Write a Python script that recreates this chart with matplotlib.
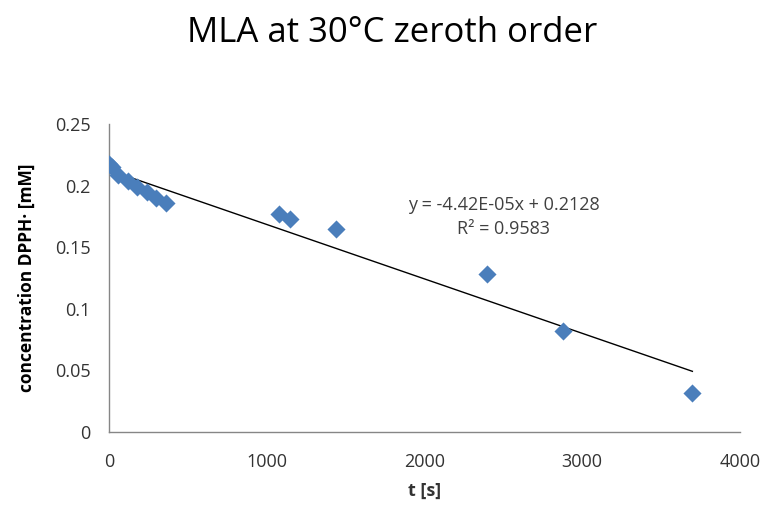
import numpy as np
import matplotlib
matplotlib.use('Agg')
import matplotlib.pyplot as plt

# data
t_s = [0, 20, 60, 120, 180, 240, 300, 360, 1080, 1150, 1440, 2400, 2880, 3700]
conc_mM = [0.218, 0.215, 0.209, 0.204, 0.199, 0.195, 0.190, 0.186,
           0.177, 0.173, 0.165, 0.128, 0.082, 0.032]
slope = -4.42e-05
intercept = 0.2128
r_squared = 0.9583
x_ticks = [0, 1000, 2000, 3000, 4000]
y_ticks = [0, 0.05, 0.1, 0.15, 0.2, 0.25]

plt.rcParams['font.family'] = ['Open Sans', 'DejaVu Sans']

fig = plt.figure(figsize=(7.61, 5.07), dpi=100)
ax = fig.add_axes([0.143, 0.148, 0.829, 0.607])

ax.scatter(t_s, conc_mM, marker='D', s=85, color='#4A7EBB', zorder=3,
           linewidths=0)

# linear trendline
t_line = np.array([0, max(t_s)])
ax.plot(t_line, slope * t_line + intercept, color='black', lw=1.0, zorder=2)

ax.text(0.626, 0.737, 'y = %.2fE-05x + %.4f' % (slope * 1e5, intercept),
        transform=ax.transAxes, ha='center', va='center', fontsize=13,
        color='#404040')
ax.text(0.626, 0.658, 'R² = %.4f' % r_squared,
        transform=ax.transAxes, ha='center', va='center', fontsize=13,
        color='#404040')

ax.set_xlim(0, 4000)
ax.set_ylim(0, 0.25)
ax.set_xticks(x_ticks)
ax.set_yticks(y_ticks)
ax.set_xticklabels([str(v) for v in x_ticks])
ax.set_yticklabels(['0', '0.05', '0.1', '0.15', '0.2', '0.25'])
ax.tick_params(length=0, labelsize=13, colors='#333333')
ax.tick_params(axis='x', pad=15)
ax.tick_params(axis='y', pad=13)

for side in ['top', 'right']:
    ax.spines[side].set_visible(False)
for side in ['left', 'bottom']:
    ax.spines[side].set_color('#868686')
    ax.spines[side].set_linewidth(1.0)

ax.set_xlabel('t [s]', fontsize=13, fontweight='bold', color='#333333',
              labelpad=8)
ax.set_ylabel('concentration DPPH· [mM]', fontsize=12.5, fontweight='bold',
              color='black', labelpad=14)

fig.text(0.515, 0.935, 'MLA at 30°C zeroth order', fontsize=25,
         ha='center', va='center')

fig.savefig('out.png', dpi=100)
